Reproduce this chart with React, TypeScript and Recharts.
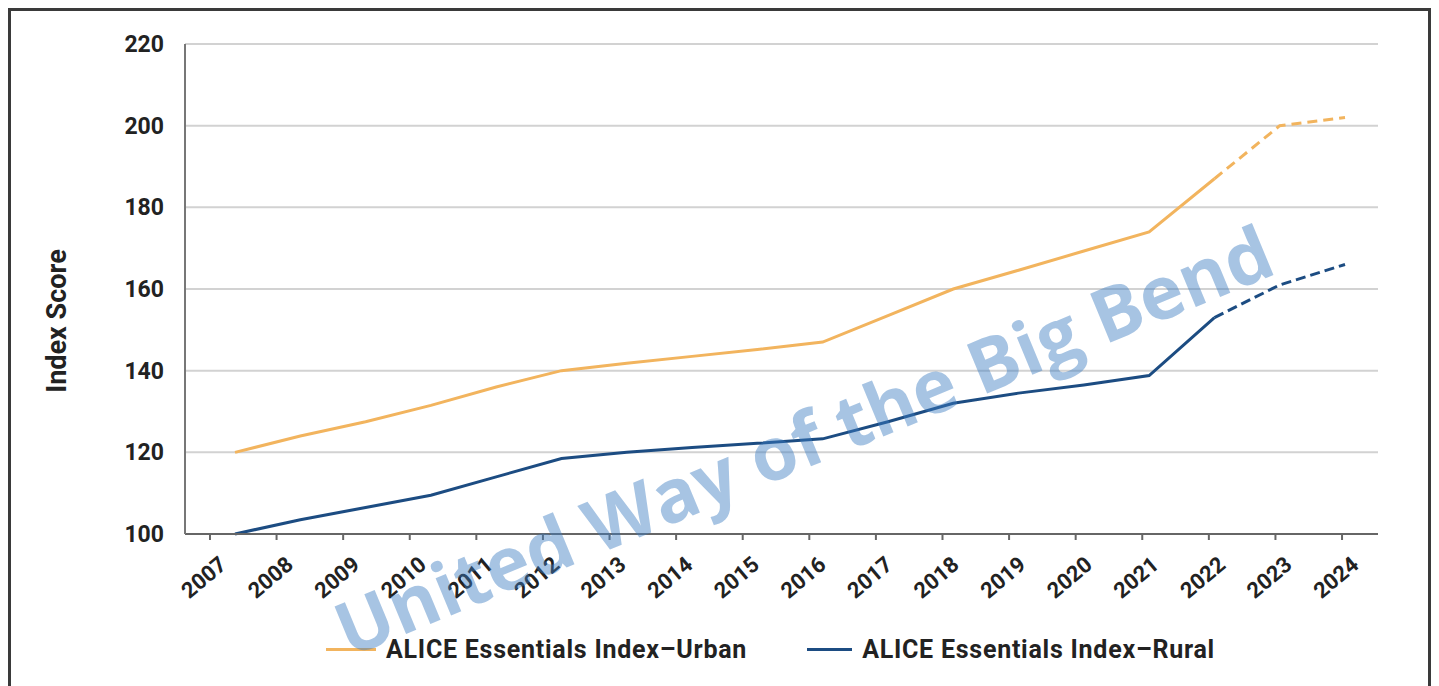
import { LineChart, Line, XAxis, YAxis, CartesianGrid } from 'recharts'

const years = [2007, 2008, 2009, 2010, 2011, 2012, 2013, 2014, 2015, 2016, 2017, 2018, 2019, 2020, 2021, 2022, 2023, 2024]
const urbanValues = [120, 124, 127.5, 131.5, 136, 140, 141.8, 143.5, 145.2, 147, 153.5, 160, 164.6, 169.3, 174, 187, 200, 202]
const ruralValues = [100, 103.5, 106.5, 109.5, 114, 118.5, 120, 121.2, 122.2, 123.3, 127.5, 132, 134.5, 136.5, 138.8, 153, 161, 166]
const yTicks = [100, 120, 140, 160, 180, 200, 220]
// last year with measured data, after that the lines are dashed
const lastActualYear = 2022
const seriesNames = ['ALICE Essentials Index\u2013Urban', 'ALICE Essentials Index\u2013Rural']

const URBAN = '#F2B45E'
const RURAL = '#1C4C82'
const FONT = 'Roboto, "Noto Sans", sans-serif'

const rows = years.map((year, i) => ({
  year,
  urban: year <= lastActualYear ? urbanValues[i] : null,
  urbanProj: year >= lastActualYear ? urbanValues[i] : null,
  rural: year <= lastActualYear ? ruralValues[i] : null,
  ruralProj: year >= lastActualYear ? ruralValues[i] : null,
}))

export default function App() {
  return (
    <div
      style={{
        position: 'relative',
        width: 1423,
        height: 678,
        boxSizing: 'border-box',
        borderTop: '3px solid #3a3a3a',
        borderLeft: '3px solid #3a3a3a',
        borderRight: '3px solid #3a3a3a',
        background: '#fff',
        overflow: 'hidden',
        fontFamily: FONT,
      }}
    >
      <LineChart width={1417} height={675} data={rows} margin={{ top: 33, right: 50, bottom: 52, left: 0 }}>
        <CartesianGrid vertical={false} stroke="#d2d2d2" strokeWidth={2} />
        <XAxis
          dataKey="year"
          type="number"
          domain={[2006.625, 2024.54]}
          ticks={years}
          allowDataOverflow
          height={100}
          stroke="#666"
          strokeWidth={2}
          tickSize={6}
          tickMargin={4}
          interval={0}
          tick={{ angle: -40, textAnchor: 'end', dx: 8, dy: 11, fill: '#222', fontSize: 22, fontWeight: 700, fontFamily: FONT }}
        />
        <XAxis xAxisId="data" dataKey="year" type="number" domain={[2006.234, 2024.505]} hide />
        <YAxis
          domain={[100, 220]}
          ticks={yTicks}
          width={174}
          stroke="#777"
          strokeWidth={2}
          tickLine={false}
          tickMargin={15}
          tick={{ fill: '#222', fontSize: 23, fontWeight: 700, fontFamily: FONT }}
          label={{
            content: () => (
              <text
                x={46}
                y={310}
                transform="rotate(-90 46 310)"
                textAnchor="middle"
                dominantBaseline="central"
                fill="#222"
                fontSize={27}
                fontWeight={700}
                fontFamily={FONT}
              >
                Index Score
              </text>
            ),
          }}
        />
        <Line xAxisId="data" dataKey="urban" stroke={URBAN} strokeWidth={3} dot={false} isAnimationActive={false} />
        <Line xAxisId="data" dataKey="urbanProj" stroke={URBAN} strokeWidth={3} strokeDasharray="10 6" dot={false} isAnimationActive={false} />
        <Line xAxisId="data" dataKey="rural" stroke={RURAL} strokeWidth={3} dot={false} isAnimationActive={false} />
        <Line xAxisId="data" dataKey="ruralProj" stroke={RURAL} strokeWidth={3} strokeDasharray="10 5" dot={false} isAnimationActive={false} />
      </LineChart>

      {/* legend */}
      <div style={{ position: 'absolute', left: 315, top: 624, display: 'flex', alignItems: 'center', fontFamily: FONT }}>
        {seriesNames.map((name, i) => (
          <div key={name} style={{ display: 'flex', alignItems: 'center', marginRight: i === 0 ? 60 : 0 }}>
            <span style={{ display: 'inline-block', width: i === 0 ? 50 : 45, height: 3, background: i === 0 ? URBAN : RURAL, marginRight: 10 }} />
            <span style={{ fontSize: 25, fontWeight: 700, color: '#222', letterSpacing: 0.75, whiteSpace: 'nowrap' }}>{name}</span>
          </div>
        ))}
      </div>

      {/* watermark */}
      <div
        style={{
          position: 'absolute',
          left: 792,
          top: 428,
          transform: 'translate(-50%, -50%) rotate(-22.5deg)',
          fontFamily: '"Open Sans", sans-serif',
          fontWeight: 700,
          fontSize: 74,
          lineHeight: 0.8,
          color: 'rgba(60, 124, 193, 0.45)',
          whiteSpace: 'nowrap',
          pointerEvents: 'none',
        }}
      >
        United Way of the Big Bend
      </div>
    </div>
  )
}
